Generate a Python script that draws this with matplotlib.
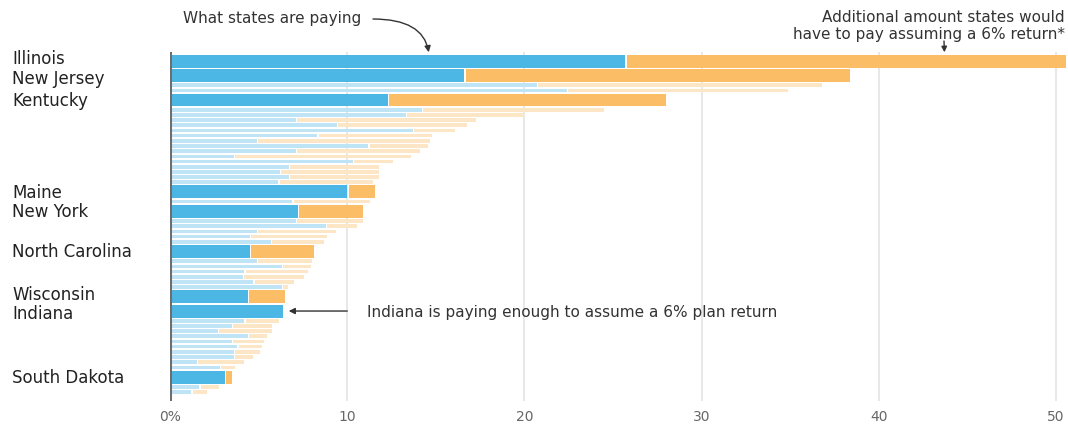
import matplotlib
matplotlib.use("Agg")
import matplotlib.pyplot as plt
import numpy as np

# States ranked by contribution needed (% of payroll); only some are labelled
states = ["Illinois", "New Jersey", "", "", "Kentucky",
          "", "", "", "", "", "", "", "", "", "", "", "", "", "", "",
          "Maine", "", "New York", "", "", "", "", "",
          "North Carolina", "", "", "", "", "", "",
          "Wisconsin", "Indiana",
          "", "", "", "", "", "", "", "", "", "",
          "South Dakota", "", ""]

# what states are paying
paying = [25.7, 16.6, 20.7, 22.4, 12.3,
          14.2, 13.3, 7.1, 9.4, 13.7, 8.3, 4.9, 11.2, 7.1, 3.6, 10.3, 6.7, 6.2, 6.7, 6.1,
          10.0, 6.9, 7.2, 7.1, 8.8, 4.9, 4.5, 5.7,
          4.5, 4.9, 6.3, 4.2, 4.1, 4.7, 6.3,
          4.4, 6.4,
          4.2, 3.5, 2.7, 4.4, 3.5, 3.8, 3.6, 3.6, 1.5, 2.8,
          3.1, 1.65, 1.2]

# what they would pay assuming a 6% return
total = [50.5, 38.3, 36.7, 34.8, 27.9,
         24.4, 19.9, 17.2, 16.7, 16.0, 14.7, 14.6, 14.5, 14.0, 13.5, 12.5, 11.7, 11.7, 11.7, 11.4,
         11.5, 11.2, 10.8, 10.8, 10.5, 9.3, 8.8, 8.6,
         8.05, 7.96, 7.9, 7.7, 7.5, 6.9, 6.6,
         6.4, 6.4,
         6.05, 5.7, 5.7, 5.4, 5.2, 5.1, 5.0, 4.6, 4.1, 3.6,
         3.4, 2.7, 2.0]

xticks = [0, 10, 20, 30, 40, 50]
xticklabels = ["0%", "10", "20", "30", "40", "50"]

BLUE = "#4cb6e4"
ORANGE = "#fbbd66"
LBLUE = "#bfe4f6"
LORANGE = "#fde6c6"
TXT = "#333333"

plt.rcParams["font.family"] = ["DejaVu Sans"]

W, H = 1068, 427
fig = plt.figure(figsize=(W / 100, H / 100), dpi=100)
ax = fig.add_axes([170 / W, (H - 402) / H, (1066 - 170) / W, (402 - 53) / H])

# row layout: labelled states get a thick slot, the rest a thin one
hl = np.array([s != "" for s in states])
slot = np.where(hl, 2.75, 1.0)
centers = np.cumsum(slot) - slot / 2
heights = np.where(hl, 2.5, 0.7)

paying = np.array(paying)
total = np.array(total)
extra = total - paying

ax.barh(centers, paying, height=heights,
        color=[BLUE if h else LBLUE for h in hl], zorder=2)
ax.barh(centers, extra, left=paying + 0.08, height=heights,
        color=[ORANGE if h else LORANGE for h in hl], zorder=2)

ax.set_ylim(67.0, -0.4)
ax.set_xlim(0, 50.56)

for x in xticks[1:]:
    ax.axvline(x, color="#e4e4e4", lw=1.2, zorder=1)
ax.axvline(0, color="#6e6e6e", lw=2.2, zorder=3)

for sp in ax.spines.values():
    sp.set_visible(False)
ax.set_yticks([])
ax.set_xticks(xticks)
ax.set_xticklabels(xticklabels, fontsize=10, color="#666666")
ax.tick_params(axis="x", length=0, pad=6)

# nudge the two tightly stacked pairs apart a little so the names don't collide
nudge = {"Illinois": -0.55, "New Jersey": 0.45, "Wisconsin": -0.55, "Indiana": 0.45}
for s, c in zip(states, centers):
    if s:
        ax.text(-158 / 17.72, c + nudge.get(s, 0), s, fontsize=12, color="#222222",
                va="center", ha="left")

# annotations
fig.text(183 / W, 1 - 18 / H, "What states are paying", fontsize=11,
         color=TXT, va="center", ha="left")
ax.annotate("", xy=(14.6, -0.35), xytext=(373, H - 20), textcoords="figure pixels",
            arrowprops=dict(arrowstyle="-|>", color=TXT, lw=1,
                            connectionstyle="angle3,angleA=0,angleB=-80",
                            mutation_scale=9, shrinkA=0, shrinkB=0))

fig.text(1065 / W, 1 - 18 / H, "Additional amount states would", fontsize=11,
         color=TXT, va="center", ha="right")
fig.text(1065 / W, 1 - 35 / H, "have to pay assuming a 6% return*", fontsize=11,
         color=TXT, va="center", ha="right")
ax.annotate("", xy=(43.7, -0.35), xytext=(944, H - 42), textcoords="figure pixels",
            arrowprops=dict(arrowstyle="-|>", color=TXT, lw=1,
                            mutation_scale=8, shrinkA=0, shrinkB=0))

ind = states.index("Indiana")
ax.annotate("Indiana is paying enough to assume a 6% plan return",
            xy=(paying[ind] + 0.3, centers[ind]), xytext=(11.1, centers[ind]),
            textcoords="data", fontsize=11, color=TXT,
            va="center", ha="left",
            arrowprops=dict(arrowstyle="-|>", color=TXT, lw=1,
                            mutation_scale=9, shrinkA=12, shrinkB=0))

fig.savefig("out.png", dpi=100)
